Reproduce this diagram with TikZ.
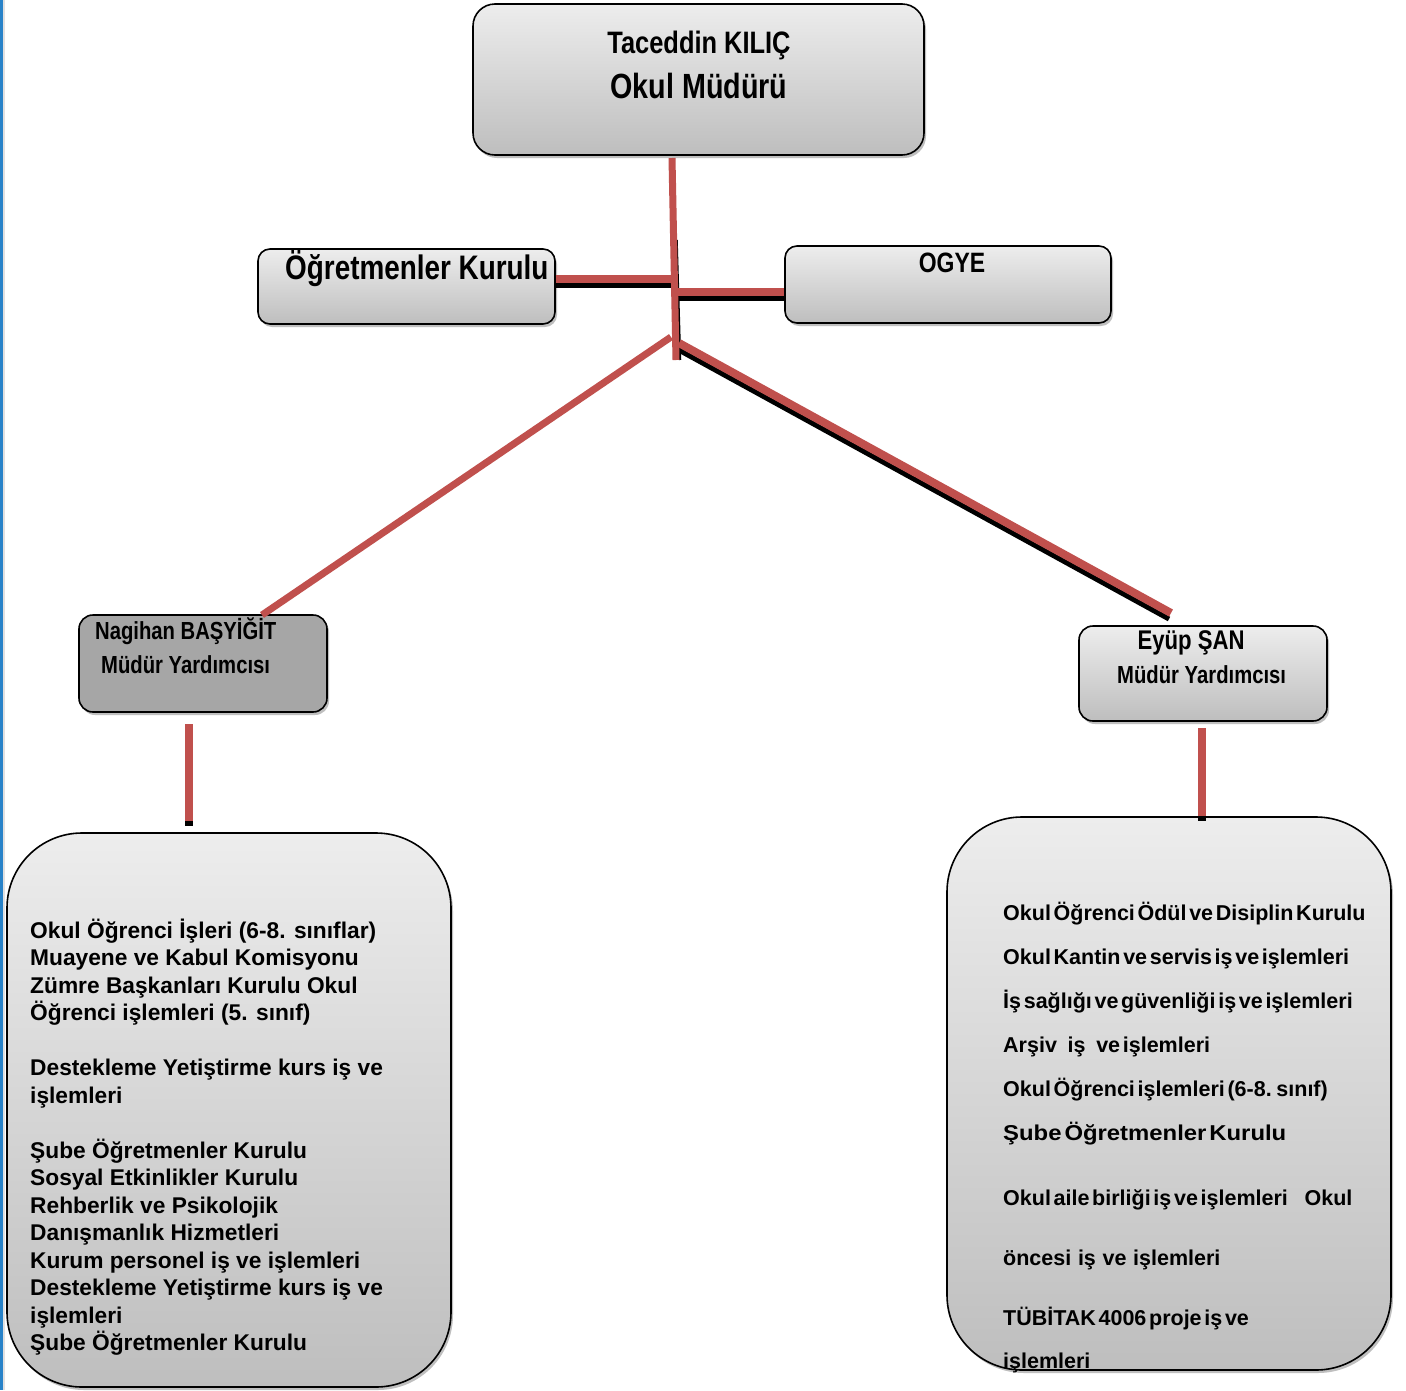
\documentclass[tikz,border=0pt]{standalone}
\usepackage{fontspec}
\setmainfont{Liberation Sans}
\newfontfamily\narrowfont[FakeStretch=0.82]{Liberation Sans}
\newfontfamily\tightfont[WordSpace=0.45]{Liberation Sans}
\usetikzlibrary{shadows}
\definecolor{boxtop}{RGB}{237,237,237}
\definecolor{boxbot}{RGB}{190,190,190}
\definecolor{nagfill}{RGB}{166,166,166}
\definecolor{linkred}{RGB}{192,80,77}
\definecolor{edgeblue}{RGB}{40,130,200}
\tikzset{
  orgbox/.style={draw=black, line width=1.6pt, top color=boxtop, bottom color=boxbot,
    drop shadow={shadow xshift=2pt, shadow yshift=-3pt, fill=black!45, opacity=0.55},
    inner sep=0pt},
  redlink/.style={draw=linkred, line width=7pt},
  blacklink/.style={draw=black, line width=5pt},
  headtext/.style={font=\narrowfont\bfseries\fontsize{31}{37}\selectfont, inner sep=0pt},
  subtext/.style={font=\narrowfont\bfseries\fontsize{24.7}{30}\selectfont, inner sep=0pt},
}
\begin{document}
\begin{tikzpicture}[x=1pt,y=-1pt]
\useasboundingbox (0,0) rectangle (1406,1390);
\fill[white] (0,0) rectangle (1406,1390);
\fill[edgeblue] (0,0) rectangle (3,1390);
\fill[black!12] (3,0) rectangle (5,1390);

% boxes
\node[orgbox, rounded corners=22pt, minimum width=451pt, minimum height=151pt] (top) at (698.5,79.5) {};
\node[orgbox, rounded corners=12pt, minimum width=297pt, minimum height=75pt] (ogr) at (406.5,286.5) {};
\node[orgbox, rounded corners=12pt, minimum width=326pt, minimum height=77pt] (ogye) at (948,284.5) {};
\node[orgbox, top color=nagfill, bottom color=nagfill, rounded corners=14pt, minimum width=248pt, minimum height=97pt] (nag) at (203,663.5) {};
\node[orgbox, rounded corners=14pt, minimum width=248pt, minimum height=95pt] (eyup) at (1203,673.5) {};
\node[orgbox, rounded corners=75pt, minimum width=444pt, minimum height=554pt] (lbig) at (229,1110) {};
\node[orgbox, rounded corners=75pt, minimum width=444pt, minimum height=553pt] (rbig) at (1169,1093.5) {};

% junction coordinates
\coordinate (v0) at (672,158);
\coordinate (v1) at (676,360);
\coordinate (hl) at (672,279);
\coordinate (hlb) at (676,285.5);
\coordinate (hr) at (676,291.5);
\coordinate (hrb) at (675,298.5);
\coordinate (dl) at (671,337);
\coordinate (dr) at (679,343);
\coordinate (drb) at (677,349);
\coordinate (nagtop) at (262,615);
\coordinate (eyuptop) at (1171,613);
\coordinate (eyuptopb) at (1169,619);
\coordinate (nb0) at (189,724);
\coordinate (nb1) at (189,821);
\coordinate (nb2) at (189,826);
\coordinate (eb0) at (1202,728);
\coordinate (eb1) at (1202,816);
\coordinate (eb2) at (1202,821);

% connectors: shadows first
\draw[black, line width=2.5pt] (676.5,240) -- (680,360);
\draw[blacklink] (ogr.east |- hlb) -- (hlb);
\draw[blacklink] (hrb) -- (ogye.west |- hrb);
\draw[blacklink] (drb) -- (eyuptopb);
\draw[draw=black, line width=8pt] (nb0) -- (nb2);
\draw[draw=black, line width=8pt] (eb0) -- (eb2);
% red lines
\draw[redlink] (v0) -- (v1);
\draw[redlink, line width=8pt] (ogr.east |- hl) -- (hl);
\draw[redlink, line width=8pt] (hr) -- (ogye.west |- hr);
\draw[redlink] (dl) -- (nagtop);
\draw[redlink, line width=8pt] (dr) -- (eyuptop);
\draw[redlink, line width=8pt] (nb0) -- (nb1);
\draw[redlink, line width=8pt] (eb0) -- (eb1);

% texts
\node[headtext, anchor=base] (t1) at (699,53) {Taceddin KILIÇ};
\node[headtext, font=\narrowfont\bfseries\fontsize{35}{40}\selectfont, anchor=base] (t2) at (699,98.5) {Okul Müdürü};
\node[headtext, font=\narrowfont\bfseries\fontsize{34}{39}\selectfont, anchor=base west] (ogrt) at (285,279) {Öğretmenler Kurulu};
\node[headtext, font=\narrowfont\bfseries\fontsize{28}{33}\selectfont, anchor=base] (ogyet) at (952,272) {OGYE};
\node[subtext, anchor=base west] (nagt1) at (95,639) {Nagihan BAŞYİĞİT};
\node[subtext, anchor=base west] (nagt2) at (101,673) {Müdür Yardımcısı};
\node[subtext, font=\narrowfont\bfseries\fontsize{27}{31}\selectfont, anchor=base] (eyt1) at (1191,649) {Eyüp ŞAN};
\node[subtext, anchor=base west] (eyt2) at (1117,683) {Müdür Yardımcısı};

\node[anchor=north west, inner sep=0pt, align=left, font=\bfseries\fontsize{22.75}{27.5}\selectfont] (ltext) at (30,918.5) {%
Okul Öğrenci İşleri (6-8. sınıflar)\\
Muayene ve Kabul Komisyonu\\
Zümre Başkanları Kurulu Okul\\
Öğrenci işlemleri (5. sınıf)\\[27.5pt]
Destekleme Yetiştirme kurs iş ve\\
işlemleri\\[27.5pt]
Şube Öğretmenler Kurulu\\
Sosyal Etkinlikler Kurulu\\
Rehberlik ve Psikolojik\\
Danışmanlık Hizmetleri\\
Kurum personel iş ve işlemleri\\
Destekleme Yetiştirme kurs iş ve\\
işlemleri\\
Şube Öğretmenler Kurulu};

\node[anchor=north west, inner sep=0pt, align=left, font=\tightfont\bfseries\fontsize{21.5}{44}\selectfont] (rtext) at (1003,902) {%
Okul Öğrenci Ödül ve Disiplin Kurulu\\
Okul Kantin ve servis iş ve işlemleri\\
İş sağlığı ve güvenliği iş ve işlemleri\\
Arşiv\hspace{8pt} iş\hspace{8pt} ve işlemleri\\
Okul Öğrenci işlemleri (6-8. sınıf)\\
\scalebox{1.11}[1]{Şube Öğretmenler Kurulu}\\[21pt]
Okul aile birliği iş ve işlemleri\hspace{14pt} Okul\\[16pt]
öncesi\hspace{4pt} iş\hspace{4pt} ve\hspace{4pt} işlemleri\\[16pt]
TÜBİTAK 4006 proje iş ve\\[-1pt]
işlemleri};
\end{tikzpicture}
\end{document}
